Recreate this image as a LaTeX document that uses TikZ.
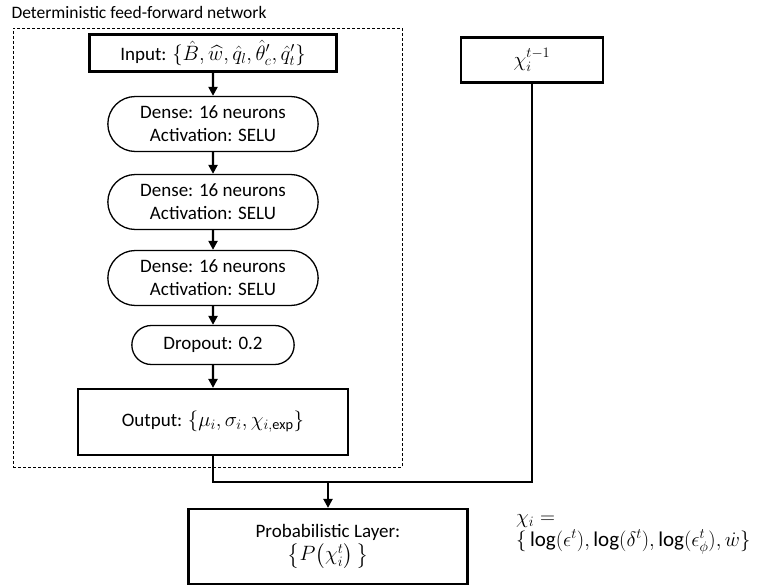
\documentclass[tikz,border=0pt]{standalone}
\usepackage{amsmath}
\usepackage{fontspec}
\setmainfont{Carlito}
\usepackage{tikz}
\usetikzlibrary{arrows.meta,positioning,shapes.misc}
\tikzset{%
	block/.style    = {draw, rectangle, line width=2.2pt, align=center, font=\fontsize{19}{23}\selectfont}, % boxes
	layer/.style    = {draw, rounded rectangle, line width=1.3pt, align=center, minimum width=217pt, minimum height=55pt, font=\fontsize{19}{23}\selectfont}, % layers
	frame/.style    = {draw, dashed, line width=0.8pt, dash pattern=on 3pt off 2pt}, % network
	waypoint/.style = {coordinate},
	link/.style     = {line width=2.2pt},
	arrow/.style    = {link, -{Triangle[length=9pt,width=9pt]}},
}
\begin{document}
\begin{tikzpicture}[x=1pt,y=1pt]
	\useasboundingbox (0,0) rectangle (773,-586);
	\node [frame, minimum width=389pt, minimum height=439pt] (net) at (207.5,-247.5) {};
	\node [anchor=base west, font=\fontsize{17.5}{21}\selectfont] (title) at (8,-19) {Deterministic feed-forward network};
	
	\node [block, minimum width=247pt, minimum height=37pt] (in) at (213,-53) {Input: \fontsize{20.5}{23}\selectfont$\{\hat{B},\widehat{w},\hat{q}_l,\hat{\theta}'_c,\hat{q}'_t\}$};
	\node [layer] (d1) [below of=in,node distance=71pt] {Dense: 16 neurons\\Activation: SELU};
	\node [layer] (d2) [below of=d1,node distance=78pt] {Dense: 16 neurons\\Activation: SELU};
	\node [layer] (d3) [below of=d2,node distance=76pt] {Dense: 16 neurons\\Activation: SELU};
	\node [layer, minimum width=169pt, minimum height=39pt] (drop) [below of=d3,node distance=67pt] {Dropout: 0.2};
	\node [block, minimum width=270pt, minimum height=66pt] (out) [below of=drop,node distance=77pt] {Output: \fontsize{20.5}{23}\selectfont$\{\mu_i,\sigma_i,\chi_{i,\mathrm{exp}}\}$};
	
	\node [block, minimum width=142pt, minimum height=45pt, font=\fontsize{21}{23}\selectfont] (chi) at (532,-60) {$\chi_i^{t-1}$};
	\node [block, minimum width=279pt, minimum height=75pt] (prob) at (328,-546.5) {Probabilistic Layer:\\\fontsize{20.5}{23}\selectfont$\bigl\{P\bigl(\chi_i^t\bigr)\,\bigr\}$};
	\node [waypoint] (j) at (prob.north |- 0,-482) {};
	\node [align=left, anchor=north west, inner sep=0pt, font=\fontsize{21}{23}\selectfont] (def) at (516,-514) {$\chi_i=$\\$\{\,\log(\epsilon^t),\log(\delta^t),\log(\epsilon^t_\phi),\dot{w}\}$};
	
	\draw[arrow] (in) -- (d1);
	\draw[arrow] (d1) -- (d2);
	\draw[arrow] (d2) -- (d3);
	\draw[arrow] (d3) -- (drop);
	\draw[arrow] (drop) -- (out);
	\draw[link] (out) |- (j) -| (chi);
	\draw[arrow] (j) -- (prob);
\end{tikzpicture}
\end{document}
